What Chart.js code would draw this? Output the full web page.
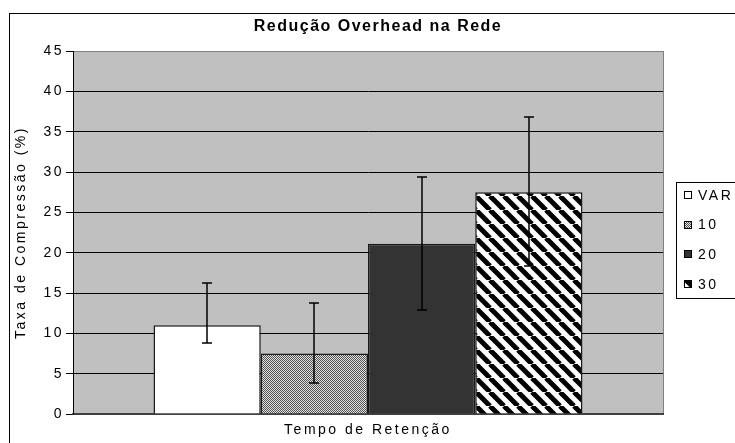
<!DOCTYPE html>
<html>
<head>
<meta charset="utf-8">
<script src="https://cdn.jsdelivr.net/npm/chart.js@4.4.1/dist/chart.umd.min.js"></script>
<style>
    html, body { margin: 0; padding: 0; background: #fff; overflow: hidden; }
    #chart { display: block; }
</style>
</head>
<body>
<canvas id="chart" width="735" height="443"></canvas>
<script>
// Data
const categories = ['Tempo de Retenção'];
const seriesNames = ['VAR', '10', '20', '30'];
const meanValues = [11.0, 7.5, 21.1, 27.5];
const errLow = [8.8, 3.8, 12.9, 18.4];
const errHigh = [16.2, 13.7, 29.4, 36.8];
const yTicks = [0, 5, 10, 15, 20, 25, 30, 35, 40, 45];

const chartTitle = 'Redução Overhead na Rede';
const yTitle = 'Taxa de Compressão (%)';

// Fill patterns
function makePattern(kind) {
    const c = document.createElement('canvas');
    const g = c.getContext('2d');
    if (kind === 'dots') {
        c.width = c.height = 2;
        g.fillStyle = '#e4e4e4';
        g.fillRect(0, 0, 2, 2);
        g.fillStyle = '#505050';
        g.fillRect(0, 0, 1, 1);
        g.fillRect(1, 1, 1, 1);
    } else {
        const s = 14;
        c.width = c.height = s;
        g.fillStyle = '#fff';
        g.fillRect(0, 0, s, s);
        g.strokeStyle = '#000';
        g.lineWidth = 5;
        [-s, 0, s].forEach(o => {
            g.beginPath();
            g.moveTo(o, 0);
            g.lineTo(o + s, s);
            g.stroke();
        });
    }
    return g.createPattern(c, 'repeat');
}

const fills = ['#ffffff', makePattern('dots'), '#333333', makePattern('diag')];

// Background, outer frame and plot area
const framePlugin = {
    id: 'frame',
    beforeDraw(chart) {
        const { ctx, chartArea: a } = chart;
        ctx.save();
        ctx.fillStyle = '#fff';
        ctx.fillRect(0, 0, chart.width, chart.height);
        ctx.strokeStyle = '#000';
        ctx.lineWidth = 1;
        ctx.strokeRect(9.5, 13.5, chart.width + 40, chart.height + 40);
        ctx.fillStyle = '#c0c0c0';
        ctx.fillRect(a.left, a.top, a.right - a.left, a.bottom - a.top);
        ctx.strokeStyle = '#808080';
        ctx.strokeRect(a.left + 0.5, a.top + 0.5, a.right - a.left, a.bottom - a.top);
        ctx.restore();
        ctx.letterSpacing = '2.5px';
    }
};

// Error bars on each bar
const errorBars = {
    id: 'errorBars',
    afterDatasetsDraw(chart) {
        const { ctx, scales: { y } } = chart;
        ctx.save();
        ctx.strokeStyle = '#000';
        ctx.lineWidth = 1.5;
        chart.data.datasets.forEach((ds, i) => {
            chart.getDatasetMeta(i).data.forEach((bar, j) => {
                const x = Math.round(bar.x);
                const hi = Math.round(y.getPixelForValue(ds.errHigh[j]));
                const lo = Math.round(y.getPixelForValue(ds.errLow[j]));
                ctx.beginPath();
                ctx.moveTo(x, hi);
                ctx.lineTo(x, lo);
                ctx.moveTo(x - 5, hi);
                ctx.lineTo(x + 5, hi);
                ctx.moveTo(x - 5, lo);
                ctx.lineTo(x + 5, lo);
                ctx.stroke();
            });
        });
        ctx.restore();
    }
};

// Title and boxed legend
const textPlugin = {
    id: 'texts',
    afterDraw(chart) {
        const { ctx } = chart;
        ctx.save();
        ctx.fillStyle = '#000';
        ctx.letterSpacing = '1.5px';
        ctx.font = "bold 16px 'Liberation Sans Narrow', 'Liberation Sans', Arial, sans-serif";
        ctx.textAlign = 'center';
        ctx.textBaseline = 'middle';
        ctx.fillText(chartTitle, 378, 27);

        ctx.strokeStyle = '#000';
        ctx.lineWidth = 1;
        ctx.fillStyle = '#fff';
        ctx.fillRect(676.5, 182.5, 140, 116);
        ctx.strokeRect(676.5, 182.5, 140, 116);

        ctx.letterSpacing = '2.5px';
        ctx.font = "14px 'Liberation Sans', Arial, sans-serif";
        ctx.textAlign = 'left';
        chart.data.datasets.forEach((ds, i) => {
            const yc = 195 + i * 29.6;
            ctx.fillStyle = ds.backgroundColor;
            ctx.fillRect(684, Math.round(yc) - 4, 8, 8);
            ctx.strokeRect(684.5, Math.round(yc) - 3.5, 7, 7);
            ctx.fillStyle = '#000';
            ctx.fillText(ds.label, 698, yc + 1);
        });
        ctx.restore();
    }
};

Chart.defaults.font.family = "'Liberation Sans', Arial, sans-serif";
Chart.defaults.font.size = 14;
Chart.defaults.color = '#000';

const ctx = document.getElementById('chart');
new Chart(ctx, {
    type: 'bar',
    data: {
        labels: categories,
        datasets: seriesNames.map((name, i) => ({
            label: name,
            data: [meanValues[i]],
            errLow: [errLow[i]],
            errHigh: [errHigh[i]],
            backgroundColor: fills[i],
            borderColor: '#1a1a1a',
            borderWidth: 1.5,
            barPercentage: 1,
            categoryPercentage: 0.727
        }))
    },
    options: {
        responsive: false,
        animation: false,
        layout: { padding: { top: 51, left: 0, right: 72, bottom: 0 } },
        plugins: {
            legend: { display: false },
            title: { display: false },
            tooltip: { enabled: false }
        },
        scales: {
            x: {
                grid: { display: false, drawTicks: false },
                border: { display: true, color: '#404040', width: 2 },
                ticks: { padding: 8 },
                afterFit(s) { s.height = 29; }
            },
            y: {
                min: 0,
                max: 45,
                afterBuildTicks(axis) { axis.ticks = yTicks.map(v => ({ value: v })); },
                grid: {
                    color: c => (c.tick && c.tick.value === 45 ? '#808080' : '#000'),
                    tickColor: '#000',
                    lineWidth: 1,
                    tickLength: 7
                },
                border: { display: true, color: '#000', width: 1 },
                ticks: { padding: 2 },
                title: { display: true, text: yTitle, padding: { top: 13 } },
                afterFit(s) { s.width = 73; }
            }
        }
    },
    plugins: [framePlugin, errorBars, textPlugin]
});
</script>
</body>
</html>
